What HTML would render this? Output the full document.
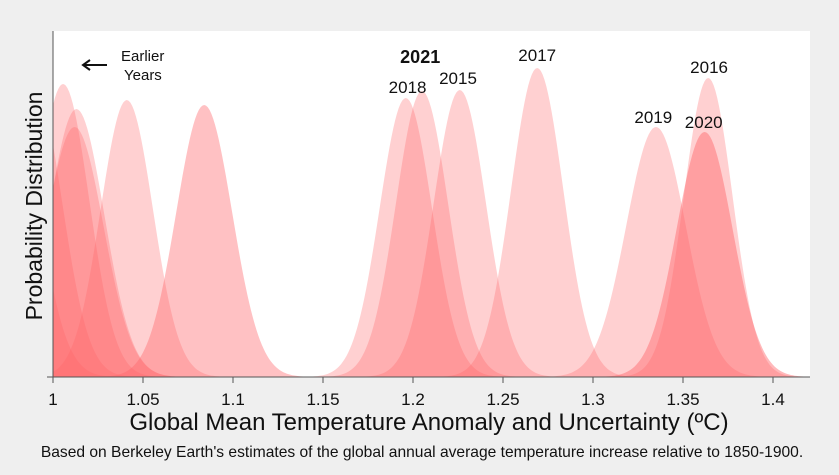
<!DOCTYPE html>
<html><head><meta charset="utf-8">
<style>
body{margin:0;background:#efefef;}
svg{display:block;font-family:"Liberation Sans",sans-serif;}
</style></head>
<body>
<svg id="chart" width="839" height="475" viewBox="0 0 839 475">
  <rect x="0" y="0" width="839" height="475" fill="#efefef"/>
  <rect x="53" y="31" width="757" height="346" fill="#ffffff"/>
  <defs><clipPath id="clip"><rect x="53" y="31" width="757" height="346"/></clipPath></defs>
  <g id="curves" clip-path="url(#clip)"></g>
  <g id="axes"></g>
  <g id="labels"></g>
  <text transform="translate(42,206) rotate(-90)" text-anchor="middle" font-size="23" fill="#111">Probability Distribution</text>
  <text x="429" y="430" text-anchor="middle" font-size="24" fill="#111">Global Mean Temperature Anomaly and Uncertainty (ºC)</text>
  <text x="422" y="457" text-anchor="middle" font-size="15.6" fill="#111">Based on Berkeley Earth's estimates of the global annual average temperature increase relative to 1850-1900.</text>
  <g>
    <line x1="107" y1="65" x2="84" y2="65" stroke="#111" stroke-width="2"/>
    <polyline points="90,60 83,65 90,70" fill="none" stroke="#111" stroke-width="2"/>
    <text x="121" y="61" font-size="15" fill="#111">Earlier</text>
    <text x="124" y="80" font-size="15" fill="#111">Years</text>
  </g>
</svg>
<script>
const years = ["e1","e2","e3","e4","e5","e6","e7","2018","2021","2015","2017","2019","2020","2016"];
const means = [0.975,0.990,1.0056,1.013,1.012,1.041,1.084,1.196,1.205,1.226,1.269,1.335,1.362,1.364];
const peaks = [300,290,293,268,250,277,272,279,286,287,309,250,245,299];
const sigmas = [0.016,0.015,0.0145,0.0155,0.016,0.0145,0.0155,0.0145,0.0145,0.0145,0.0145,0.0165,0.0155,0.0135];
const opac = [0.3,0.3,0.3,0.3,0.3,0.3,0.4,0.3,0.3,0.3,0.3,0.3,0.45,0.3];
const tickVals = [1,1.05,1.1,1.15,1.2,1.25,1.3,1.35,1.4];
const tickLabels = ["1","1.05","1.1","1.15","1.2","1.25","1.3","1.35","1.4"];
const labelYears = ["2021","2018","2015","2017","2019","2020","2016"];
const labelX = [1.204,1.197,1.225,1.269,1.3335,1.3615,1.3645];
const labelRise = [28,5,6,7,4,4,5];

const X0=53, X1=810, Y0=377;
const xs = v => X0 + (v-1)*1800;
const NS="http://www.w3.org/2000/svg";
const curves=document.getElementById('curves');
means.forEach((m,i)=>{
  let d="M"+xs(0.9)+","+Y0;
  for(let v=0.9; v<=1.45; v+=0.001){
    const y = Y0 - peaks[i]*Math.exp(-0.5*Math.pow((v-m)/sigmas[i],2));
    d+=" L"+xs(v).toFixed(1)+","+y.toFixed(1);
  }
  d+=" L"+xs(1.45)+","+Y0+" Z";
  const p=document.createElementNS(NS,'path');
  p.setAttribute('d',d);
  p.setAttribute('fill','#ff6468');
  p.setAttribute('fill-opacity',opac[i]);
  
  
  curves.appendChild(p);
});
const axes=document.getElementById('axes');
function mk(tag,attrs,txt){const e=document.createElementNS(NS,tag);for(const k in attrs)e.setAttribute(k,attrs[k]);if(txt)e.textContent=txt;return e;}
axes.appendChild(mk('line',{x1:X0,y1:31,x2:X0,y2:Y0,stroke:'#555','stroke-width':1}));
axes.appendChild(mk('line',{x1:X0-6,y1:Y0,x2:X1,y2:Y0,stroke:'#555','stroke-width':1}));
tickVals.forEach((v,i)=>{
  const t=mk('line',{x1:xs(v),y1:Y0,x2:xs(v),y2:Y0+6,stroke:'#555'});
  
  
  axes.appendChild(t);
  const l=mk('text',{x:xs(v),y:405,'text-anchor':'middle','font-size':17,fill:'#111'},tickLabels[i]);
  
  
  axes.appendChild(l);
});
const labels=document.getElementById('labels');
labelYears.forEach((y,i)=>{
  const idx=years.indexOf(y);
  const top=Y0-peaks[idx];
  const t=mk('text',{x:xs(labelX[i]),y:top-labelRise[i],'text-anchor':'middle','font-size':y==="2021"?18:17,'font-weight':y==="2021"?'bold':'normal',fill:'#111'},y);
  
  
  labels.appendChild(t);
});
</script>
</body></html>
